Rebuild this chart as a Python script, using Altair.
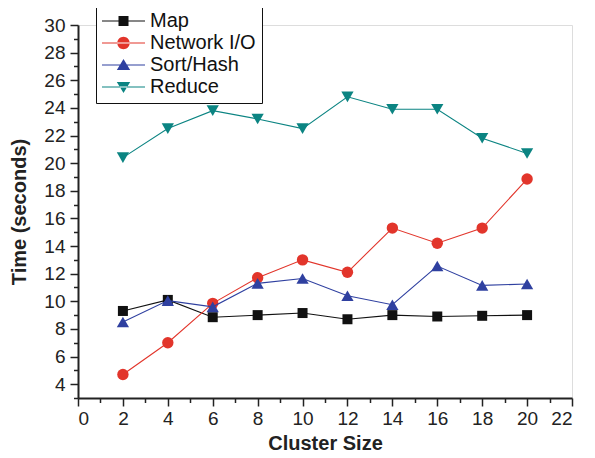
import altair as alt
import pandas as pd

cluster_sizes = [2, 4, 6, 8, 10, 12, 14, 16, 18, 20]
series_names = ["Map", "Network I/O", "Sort/Hash", "Reduce"]
map_times = [9.3, 10.1, 8.85, 9.0, 9.15, 8.7, 9.0, 8.9, 8.95, 9.0]
network_times = [4.7, 7.0, 9.85, 11.7, 13.0, 12.1, 15.3, 14.2, 15.3, 18.85]
sort_hash_times = [8.5, 10.05, 9.6, 11.3, 11.65, 10.4, 9.75, 12.55, 11.15, 11.25]
reduce_times = [20.4, 22.5, 23.8, 23.2, 22.5, 24.8, 23.9, 23.9, 21.8, 20.7]

series_colors = ["#111111", "#e2352b", "#2f40a0", "#0b8482"]
marker_shapes = ["square", "circle", "triangle-up", "triangle-down"]
marker_sizes = [100, 130, 150, 150]

y_major = list(range(4, 31, 2))
y_minor = list(range(3, 30, 2))
x_major = list(range(0, 23, 2))
x_minor = list(range(1, 22, 2))

# legend glyphs: line + marker (custom paths, 10 px per unit at symbolSize 400)
LINE = "M-1,-0.05H3.3V0.05H-1Z"
legend_paths = [
    LINE + "M0.65,-0.5H1.65V0.5H0.65Z",
    LINE + "M0.53,0A0.62,0.62,0,1,0,1.77,0A0.62,0.62,0,1,0,0.53,0Z",
    LINE + "M1.15,-0.6L1.82,0.5L0.48,0.5Z",
    LINE + "M1.15,0.6L1.82,-0.5L0.48,-0.5Z",
]

rows = []
for name, vals in zip(series_names, [map_times, network_times, sort_hash_times, reduce_times]):
    for c, v in zip(cluster_sizes, vals):
        rows.append({"series": name, "size": c, "time": v})
df = pd.DataFrame(rows)

FONT = "Liberation Sans"
xs = alt.Scale(domain=[0, 22], nice=False, zero=False)
ys = alt.Scale(domain=[3, 30], nice=False, zero=False)
cs = alt.Scale(domain=series_names, range=series_colors)

x_main = alt.X("size:Q", scale=xs, axis=alt.Axis(
    values=x_major, title="Cluster Size", grid=False, format="d",
    tickSize=8, tickWidth=1.5, tickColor="#222", domainColor="#222", domainWidth=2,
    labelFontSize=19, labelFont=FONT, labelColor="#222", labelPadding=3,
    titleFontSize=20, titleFont=FONT, titleFontWeight="bold", titleColor="#222", titlePadding=5))
y_main = alt.Y("time:Q", scale=ys, axis=alt.Axis(
    values=y_major, title="Time (seconds)", grid=False, format="d",
    tickSize=8, tickWidth=1.5, tickColor="#222", domainColor="#222", domainWidth=2,
    labelFontSize=19, labelFont=FONT, labelColor="#222", labelPadding=5,
    titleFontSize=20, titleFont=FONT, titleFontWeight="bold", titleColor="#222", titlePadding=14))

x_plain = alt.X("size:Q", scale=xs, axis=None)
y_plain = alt.Y("time:Q", scale=ys, axis=None)

leg = alt.Legend(
    title=None, orient="none", legendX=18, legendY=-20,
    labelFont=FONT, labelFontSize=20, labelColor="#111", labelOffset=28,
    symbolSize=400, symbolStrokeWidth=0, symbolOpacity=1, rowPadding=2,
    padding=6, strokeColor="#111", fillColor="white",
)
legend_layer = alt.Chart(df).mark_point(filled=True).encode(
    x=x_main, y=y_main,
    opacity=alt.value(0),
    color=alt.Color("series:N", scale=cs, legend=leg),
    shape=alt.Shape("series:N", scale=alt.Scale(domain=series_names, range=legend_paths), legend=leg),
)

series_layers = []
for name, col, shp, sz in zip(series_names, series_colors, marker_shapes, marker_sizes):
    base = alt.Chart(df).transform_filter(alt.datum.series == name)
    series_layers.append(
        base.mark_line(strokeWidth=1.1, color=col).encode(x=x_plain, y=y_plain, order="size:Q")
    )
    series_layers.append(
        base.mark_point(filled=True, shape=shp, size=sz, opacity=1, color=col)
        .encode(x=x_plain, y=y_plain)
    )

minor = alt.Chart(df).mark_point(opacity=0).encode(
    x=alt.X("size:Q", scale=xs, axis=alt.Axis(values=x_minor, labels=False, domain=False, orient="bottom",
                                              tickSize=4.5, tickWidth=1.5, tickColor="#222", title=None, grid=False)),
    y=alt.Y("time:Q", scale=ys, axis=alt.Axis(values=y_minor, labels=False, domain=False, orient="left",
                                              tickSize=4.5, tickWidth=1.5, tickColor="#222", title=None, grid=False)),
)

chart = alt.layer(legend_layer, *series_layers, minor).resolve_axis(
    x="independent", y="independent"
).properties(
    width=494, height=373,
    autosize=alt.AutoSizeParams(type="none"),
    padding={"left": 70, "top": 17, "right": 15, "bottom": 58},
).configure_view(stroke=None).configure(background="white")

chart.save("out.html", embed_options={"renderer": "svg", "actions": False})
